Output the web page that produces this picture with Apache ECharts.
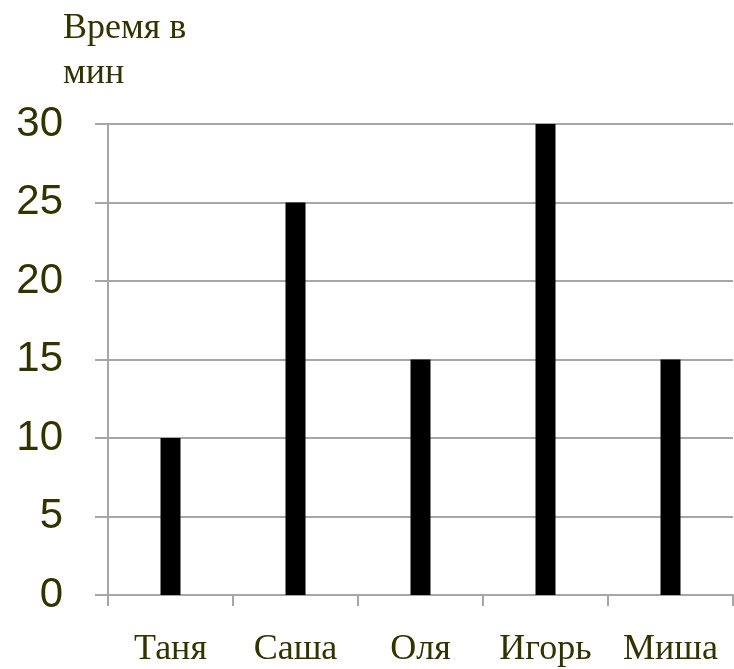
<!DOCTYPE html>
<html>
<head>
<meta charset="utf-8">
<script src="https://cdn.jsdelivr.net/npm/echarts@6/dist/echarts.min.js"></script>
<style>
html,body{margin:0;padding:0;background:#fff;}
#chart{width:734px;height:669px;}
</style>
</head>
<body>
<div id="chart"></div>
<script>
const categories = ['Таня', 'Саша', 'Оля', 'Игорь', 'Миша'];
const values = [10, 25, 15, 30, 15];
const yTicks = [0, 5, 10, 15, 20, 25, 30];
const titleText = 'Время в\nмин';

const chart = echarts.init(document.getElementById('chart'), null, {renderer: 'canvas'});
const textColor = '#333300';
const gridColor = '#a6a6a6';
chart.setOption({
  animation: false,
  backgroundColor: '#ffffff',
  title: {
    text: titleText,
    left: 58,
    top: 1,
    textStyle: {
      fontFamily: 'Liberation Serif',
      fontWeight: 'normal',
      fontSize: 36,
      lineHeight: 45,
      color: textColor
    }
  },
  grid: {left: 108, right: 1, top: 124, bottom: 74, containLabel: false},
  xAxis: {
    type: 'category',
    data: categories,
    axisLine: {show: true, lineStyle: {color: gridColor, width: 2}},
    axisTick: {show: true, length: 11, lineStyle: {color: gridColor, width: 2}},
    axisLabel: {
      margin: 37,
      fontFamily: 'Liberation Serif',
      fontSize: 36,
      color: textColor
    }
  },
  yAxis: {
    type: 'value',
    min: yTicks[0],
    max: yTicks[yTicks.length - 1],
    interval: 5,
    axisLine: {show: true, lineStyle: {color: gridColor, width: 2}},
    axisTick: {show: true, length: 13, lineStyle: {color: gridColor, width: 2}},
    splitLine: {show: true, lineStyle: {color: gridColor, width: 2}},
    axisLabel: {
      margin: 45,
      fontFamily: 'Liberation Sans',
      fontSize: 42,
      color: textColor
    }
  },
  series: [{
    type: 'bar',
    data: values,
    barWidth: 20,
    itemStyle: {color: '#000000'}
  }]
});
</script>
</body>
</html>
